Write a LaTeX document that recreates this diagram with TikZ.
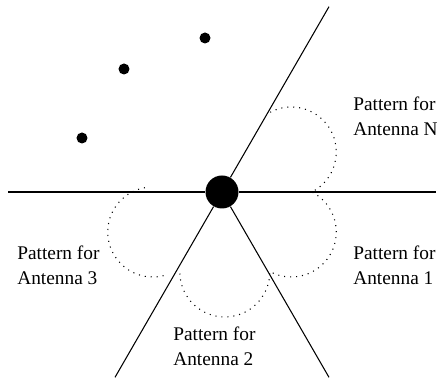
\documentclass[tikz,border=0pt]{standalone}
\usepackage{fontspec}
\setmainfont{Liberation Serif}
\usetikzlibrary{positioning, calc}
\colorlet{colPrimario}{black}
\tikzset{
  lineaRayo/.style={draw=colPrimario, line width=0.6pt},
  nodoEstacion/.style={circle, fill=colPrimario, minimum size=0.66cm, inner sep=0pt},
  nodoMovil/.style={circle, fill=colPrimario, minimum size=0.22cm, inner sep=0pt},
  patronAntena/.style={draw=colPrimario, line width=0.6pt,
    dash pattern=on 0.6pt off 2.8pt},
  etiquetaPatron/.style={font=\fontsize{11}{14}\selectfont, align=left,
    inner sep=0pt, anchor=west},
}

\begin{document}
\begin{tikzpicture}
    \useasboundingbox (-4.44,-3.76) rectangle (4.34,3.84);
    % estacion base y sectores
    \node[nodoEstacion] (base) at (0,0) {};
    \foreach \ang/\nom in {0/rayoE, 60/rayoNE, 180/rayoO, 240/rayoSO, 300/rayoSE}
      \coordinate (\nom) at (\ang:4.28);
    \foreach \nom in {rayoE, rayoNE, rayoO, rayoSO, rayoSE}
      \draw[lineaRayo] (base) -- (\nom);
    % moviles
    \node[nodoMovil] (m1) at (-2.8,1.08) {};
    \node[nodoMovil] (m2) at (-1.96,2.46) {};
    \node[nodoMovil] (m3) at (-0.34,3.08) {};
    % patrones de antena
    \coordinate (cN) at (30:1.6);
    \coordinate (c1) at (-30:1.6);
    \coordinate (c2) at (-88:1.6);
    \coordinate (c3) at (210:1.6);
    \draw[patronAntena] (cN) ++(118:0.9) arc[start angle=118, end angle=-64, radius=0.9];
    \draw[patronAntena] (c1) ++(62:0.9) arc[start angle=62, end angle=-116, radius=0.9];
    \draw[patronAntena] (c2) ++(182:0.9) arc[start angle=182, end angle=358, radius=0.9];
    \draw[patronAntena] (c3) ++(100:0.9) arc[start angle=100, end angle=290, radius=0.9];
    % etiquetas
    \node[etiquetaPatron] (tN) at (2.62,1.51) {Pattern for\\Antenna N};
    \node[etiquetaPatron] (t1) at (2.62,-1.46) {Pattern for\\Antenna 1};
    \node[etiquetaPatron] (t2) at (-0.98,-3.08) {Pattern for\\Antenna 2};
    \node[etiquetaPatron] (t3) at (-4.1,-1.46) {Pattern for\\Antenna 3};
\end{tikzpicture}
\end{document}
